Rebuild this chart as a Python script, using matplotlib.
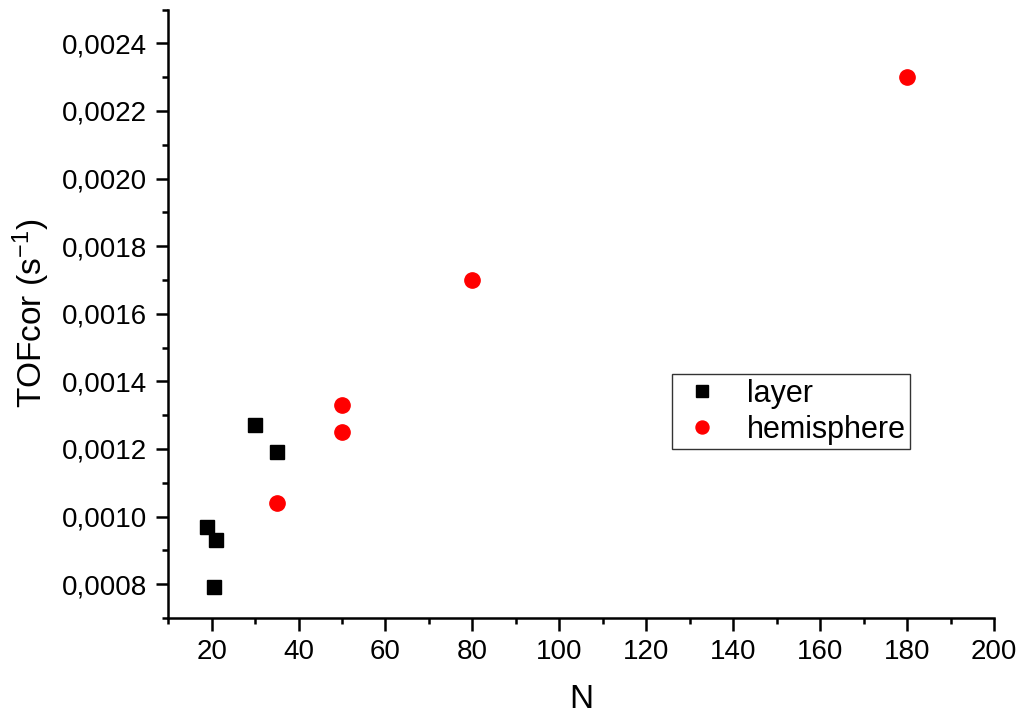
import matplotlib
matplotlib.use("Agg")
import matplotlib.pyplot as plt
from matplotlib.ticker import FuncFormatter, MultipleLocator

plt.rcParams["font.family"] = ["Liberation Sans", "DejaVu Sans"]
plt.rcParams["mathtext.default"] = "regular"

layer_n = [19, 21, 20.5, 30, 35]
layer_tof = [0.00097, 0.00093, 0.00079, 0.00127, 0.00119]

hemi_n = [35, 50, 50, 80, 180]
hemi_tof = [0.00104, 0.00125, 0.00133, 0.00170, 0.00230]


def comma_format(value, pos):
    return f"{value:.4f}".replace(".", ",")


def main():
    fig = plt.figure(figsize=(10.19, 7.16), dpi=100)
    ax = fig.add_axes([0.165, 0.137, 0.8105, 0.8497])

    ax.plot(layer_n, layer_tof, linestyle="none", marker="s", markersize=10,
            color="black", label="layer")
    ax.plot(hemi_n, hemi_tof, linestyle="none", marker="o", markersize=11,
            color="red", markeredgecolor="red", label="hemisphere")

    ax.set_xlim(10, 200)
    ax.set_ylim(0.0007, 0.0025)
    ax.xaxis.set_major_locator(MultipleLocator(20))
    ax.xaxis.set_minor_locator(MultipleLocator(10))
    ax.yaxis.set_major_locator(MultipleLocator(0.0002))
    ax.yaxis.set_minor_locator(MultipleLocator(0.0001))
    ax.yaxis.set_major_formatter(FuncFormatter(comma_format))

    # only left and bottom axes, outward ticks like the origin plot
    ax.spines["top"].set_visible(False)
    ax.spines["right"].set_visible(False)
    for side in ["left", "bottom"]:
        ax.spines[side].set_linewidth(1.8)
    ax.tick_params(which="major", direction="out", length=9, width=1.8,
                   labelsize=20, pad=6)
    ax.tick_params(which="minor", direction="out", length=4.5, width=1.8)

    ax.set_xlabel("N", fontsize=24, labelpad=14)
    ax.set_ylabel("TOFcor (s$^{-1}$)", fontsize=24, labelpad=7)

    legend = ax.legend(loc="upper left", bbox_to_anchor=(0.61, 0.401),
                       fontsize=22, frameon=True, fancybox=False,
                       handletextpad=0.6, borderpad=0.15, labelspacing=0.2,
                       markerscale=0.85, borderaxespad=0, handlelength=1.7)
    legend.get_frame().set_edgecolor("black")
    legend.get_frame().set_linewidth(1.0)

    fig.savefig("out.png", dpi=100)


if __name__ == "__main__":
    main()
